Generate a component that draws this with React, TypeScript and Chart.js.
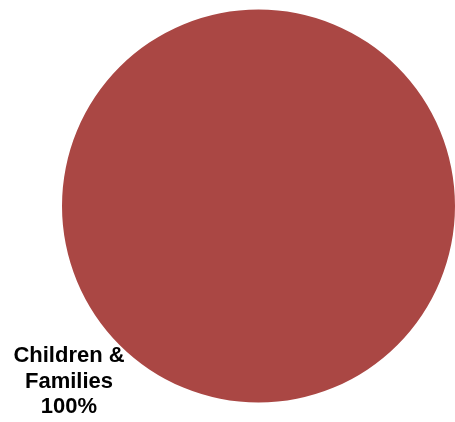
import React, { useEffect, useRef } from "react";
import { Chart, registerables } from "chart.js";

Chart.register(...registerables);

const categories = ["Children & Families"];
const values = [100];
const colors = ["#AA4744"];

const labelPlugin = {
  id: "sliceLabels",
  afterDraw(chart: any) {
    const ctx = chart.ctx;
    ctx.save();
    ctx.fillStyle = "#000000";
    ctx.font = "bold 22px 'Liberation Sans', Arial, sans-serif";
    ctx.textAlign = "center";
    ctx.textBaseline = "middle";
    const total = values.reduce((a, b) => a + b, 0);
    categories.forEach((cat, i) => {
      const pct = Math.round((values[i] / total) * 100) + "%";
      const lines = ["Children &", "Families", pct];
      const x = 69;
      const y0 = 356;
      lines.forEach((ln, j) => ctx.fillText(ln, x, y0 + j * 25.5));
    });
    ctx.restore();
  },
};

export default function App() {
  const ref = useRef<HTMLCanvasElement>(null);
  useEffect(() => {
    const chart = new Chart(ref.current!, {
      type: "pie",
      data: {
        labels: categories,
        datasets: [{ data: values, backgroundColor: colors, borderWidth: 0 }],
      },
      options: {
        animation: false,
        responsive: false,
        layout: { padding: { left: 62, right: 0, top: 9, bottom: 19 } },
        plugins: { legend: { display: false }, tooltip: { enabled: false } },
      },
      plugins: [labelPlugin],
    });
    return () => chart.destroy();
  }, []);
  return (
    <div style={{ position: "absolute", left: 0, top: 0, width: 455, height: 422, background: "#fff" }}>
      <canvas ref={ref} width={455} height={422} style={{ width: 455, height: 422 }} />
    </div>
  );
}
